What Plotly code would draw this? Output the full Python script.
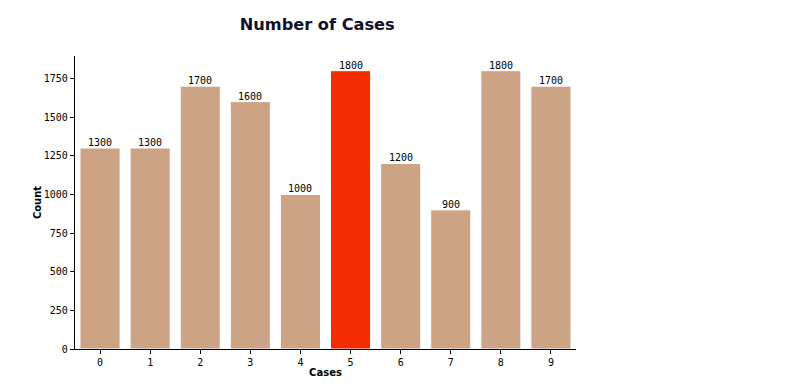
import plotly.graph_objects as go

cases = [0, 1, 2, 3, 4, 5, 6, 7, 8, 9]
counts = [1300, 1300, 1700, 1600, 1000, 1800, 1200, 900, 1800, 1700]
highlight = 5
ytick_vals = [0, 250, 500, 750, 1000, 1250, 1500, 1750]

colors = ["#f52c00" if c == highlight else "#cda385" for c in cases]

fig = go.Figure(go.Bar(
    x=cases, y=counts,
    marker=dict(color=colors, line=dict(color="white", width=1)),
    width=0.8,
    cliponaxis=False,
))

for c, v in zip(cases, counts):
    fig.add_annotation(x=c, y=v, text=str(v), showarrow=False, xanchor="center", yanchor="bottom",
                       yshift=-2, font=dict(family="DejaVu Sans Mono", size=10, color="black"))

fig.update_layout(
    width=777, height=375,
    margin=dict(l=67, r=209, t=48, b=34),
    plot_bgcolor="white", paper_bgcolor="white",
    title=dict(text="<b>Number of Cases</b>", x=0.398, xanchor="center", y=0.957, yanchor="middle",
               font=dict(family="DejaVu Sans", size=16.2, color="#0f0f2d")),
    showlegend=False,
)
fig.update_xaxes(
    range=[-0.5, 9.5], tickvals=cases, ticktext=[str(c) for c in cases], automargin=False,
    showline=True, linecolor="black", linewidth=1.2, ticks="outside", ticklen=4, tickcolor="black",
    showgrid=False, zeroline=False,
    tickfont=dict(family="DejaVu Sans Mono", size=10, color="black"),
    title=dict(text="<b>Cases</b>", font=dict(family="DejaVu Sans", size=10, color="black"), standoff=1),
)
fig.update_yaxes(
    range=[0, 1895], tickvals=ytick_vals, automargin=False,
    showline=True, linecolor="black", linewidth=1.2, ticks="outside", ticklen=4, tickcolor="black",
    showgrid=False, zeroline=False,
    tickfont=dict(family="DejaVu Sans Mono", size=10, color="black"),
    title=dict(text="<b>Count</b>", font=dict(family="DejaVu Sans", size=10, color="black"), standoff=0),
)

fig.write_html("out.html")
